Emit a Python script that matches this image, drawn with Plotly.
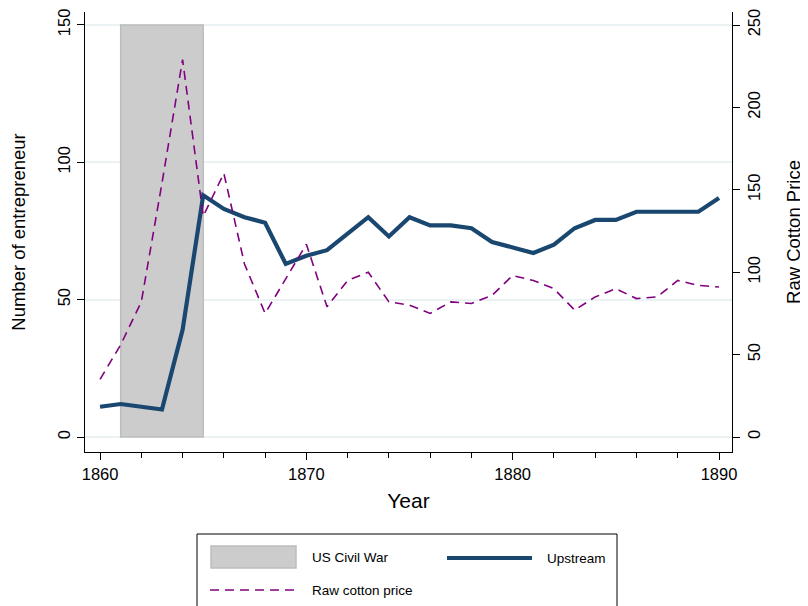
import plotly.graph_objects as go

years = list(range(1860, 1891))
upstream = [11, 12, 11, 10, 39, 88, 83, 80, 78, 63, 66, 68, 74, 80, 73, 80, 77, 77, 76,
            71, 69, 67, 70, 76, 79, 79, 82, 82, 82, 82, 87]
cotton_price = [35, 56, 82, 154, 229, 134, 160, 105, 75, 96, 117, 79, 95, 100, 82, 80, 75,
                82, 81, 86, 98, 95, 90, 77, 85, 90, 84, 85, 95, 92, 91]
war_start, war_end = 1861, 1865
war_top = 150

FONT = "Liberation Sans, Arial, sans-serif"
NAVY = "#1a476f"
PURPLE = "#800080"

fig = go.Figure()

# civil war shading
fig.add_shape(type="rect", xref="x", yref="y", x0=war_start, x1=war_end, y0=0, y1=war_top,
              fillcolor="#cccccc", line=dict(color="#bdbdbd", width=1.5), layer="between")

fig.add_trace(go.Scatter(x=years, y=cotton_price, mode="lines", name="Raw cotton price",
                         yaxis="y2", line=dict(color=PURPLE, width=1.6, dash="9px,6px")))
fig.add_trace(go.Scatter(x=years, y=upstream, mode="lines", name="Upstream",
                         line=dict(color=NAVY, width=4.2)))

# page body has an 8px margin, so the figure is a bit smaller than the window
fig.update_layout(
    width=800, height=598,
    margin=dict(l=77, r=76, t=4, b=154),
    paper_bgcolor="white", plot_bgcolor="white",
    font=dict(family=FONT, size=16.5, color="black"),
    showlegend=False,
    xaxis=dict(range=[1859.27, 1890.63], tickvals=[1860, 1870, 1880, 1890],
               ticks="outside", ticklen=7, tickcolor="black", showgrid=False,
               showline=True, linecolor="black", linewidth=1, zeroline=False,
               automargin=False,
               minor=dict(dtick=2, tick0=1860, ticks="outside", ticklen=5, tickcolor="black",
                          showgrid=False),
               title=dict(text="Year", font=dict(size=21), standoff=11)),
    yaxis=dict(range=[-5.46, 154.7], tickvals=[0, 50, 100, 150], tickangle=-90,
               ticks="outside", ticklen=7, tickcolor="black",
               showgrid=True, gridcolor="#eaf2f3", gridwidth=1.5,
               showline=True, linecolor="black", linewidth=1, zeroline=False,
               automargin=False,
               title=dict(text="Number of entrepreneur", font=dict(size=18.5), standoff=25)),
    yaxis2=dict(range=[-9.1, 257.9], tickvals=[0, 50, 100, 150, 200, 250], tickangle=-90,
                overlaying="y", side="right",
                ticks="outside", ticklen=7, tickcolor="black", showgrid=False,
                showline=True, linecolor="black", linewidth=1, zeroline=False,
                automargin=False,
                title=dict(text="Raw Cotton Price", font=dict(size=18.5), standoff=25)),
)

# legend box drawn by hand to match the wide Stata-style keys
fig.add_shape(type="rect", xref="paper", yref="paper",
              x0=(197 - 85) / 647, x1=(617 - 85) / 647,
              y0=(454 - 620) / 440, y1=(454 - 536) / 440,
              line=dict(color="black", width=1), fillcolor="white")
fig.add_shape(type="rect", xref="paper", yref="paper",
              x0=(211 - 85) / 647, x1=(296 - 85) / 647,
              y0=(452 - 568) / 440, y1=(452 - 546) / 440,
              fillcolor="#cccccc", line=dict(color="#bdbdbd", width=1.5))
fig.add_shape(type="line", xref="paper", yref="paper",
              x0=(447 - 85) / 647, x1=(532 - 85) / 647,
              y0=(452 - 558) / 440, y1=(452 - 558) / 440,
              line=dict(color=NAVY, width=4.2))
fig.add_shape(type="line", xref="paper", yref="paper",
              x0=(210 - 85) / 647, x1=(296 - 85) / 647,
              y0=(452 - 590) / 440, y1=(452 - 590) / 440,
              line=dict(color=PURPLE, width=1.6, dash="9px,6px"))
for label, px, py in [("US Civil War", 310, 557), ("Upstream", 545, 558),
                      ("Raw cotton price", 310, 590)]:
    fig.add_annotation(text=label, xref="paper", yref="paper", showarrow=False,
                       x=(px - 85) / 647, y=(452 - py) / 440, xanchor="left", yanchor="middle",
                       font=dict(size=13.5))

fig.write_html("out.html")
